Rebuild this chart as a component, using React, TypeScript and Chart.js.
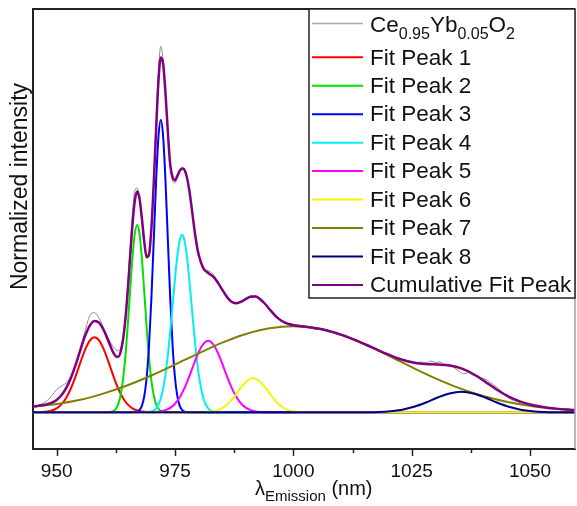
import React, { useEffect, useRef } from "react";
import { Chart, registerables } from "chart.js";

Chart.register(...registerables);

const FONT = '"Liberation Sans", Arial, Helvetica, sans-serif';

// ---------- axis ticks ----------
const xMajorTicks = [950, 975, 1000, 1025, 1050];
const xMinorTicks = [962.5, 987.5, 1012.5, 1037.5];

// ---------- measured spectrum (grey) ----------
const dataX = [
  945, 946, 947, 948, 949, 950, 951, 952, 953, 954, 955, 956, 957, 958, 959, 960, 961, 962, 963,
  963.5, 964, 964.5, 965, 965.5, 966, 966.5, 967, 967.5, 968, 968.5, 969, 969.5, 970, 970.5, 971,
  971.5, 972, 972.5, 973, 973.5, 974, 974.5, 975, 975.5, 976, 976.5, 977, 977.5, 978,
  979, 980, 981, 982, 983, 984, 985, 986, 987, 988, 989, 990, 991, 992, 993, 994, 995, 996, 997,
  998, 999, 1000, 1001, 1002, 1003, 1004, 1005, 1006, 1007, 1008, 1009, 1010, 1011, 1012, 1013,
  1014, 1015, 1016, 1017, 1018, 1019, 1020, 1021, 1022, 1023, 1024, 1025, 1026, 1027, 1028, 1029,
  1030, 1031, 1032, 1033, 1034, 1035, 1036, 1037, 1038, 1039, 1040, 1041, 1042, 1043, 1044, 1045,
  1046, 1047, 1048, 1049, 1050, 1051, 1052, 1053, 1054, 1055, 1056, 1057, 1058, 1059, 1059.5,
];
const dataY = [
  0.018, 0.02, 0.024, 0.032, 0.046, 0.062, 0.072, 0.08, 0.098, 0.13, 0.175, 0.222, 0.264, 0.272, 0.256, 0.228, 0.2, 0.178, 0.168,
  0.175, 0.205, 0.262, 0.345, 0.445, 0.54, 0.605, 0.612, 0.585, 0.522, 0.46, 0.42, 0.425, 0.495, 0.63, 0.79,
  0.93, 0.998, 0.96, 0.87, 0.762, 0.668, 0.632, 0.626, 0.642, 0.658, 0.668, 0.664, 0.644, 0.606,
  0.51, 0.432, 0.393, 0.386, 0.378, 0.358, 0.335, 0.318, 0.302, 0.3, 0.305, 0.311, 0.318, 0.318, 0.305, 0.298, 0.282, 0.27, 0.256,
  0.248, 0.242, 0.24, 0.238, 0.232, 0.234, 0.229, 0.226, 0.229, 0.222, 0.218, 0.219, 0.213, 0.21, 0.201, 0.196,
  0.193, 0.184, 0.178, 0.176, 0.168, 0.162, 0.159, 0.152, 0.149, 0.145, 0.141, 0.139, 0.136, 0.137, 0.134, 0.14,
  0.136, 0.137, 0.13, 0.131, 0.121, 0.112, 0.105, 0.108, 0.101, 0.099, 0.093, 0.087, 0.078, 0.068, 0.057, 0.044,
  0.035, 0.03, 0.026, 0.024, 0.021, 0.018, 0.016, 0.013, 0.012, 0.01, 0.01, 0.008, 0.007, 0.007, 0.006,
];

// ---------- fit peaks ----------
const peak1X = [945, 946, 947, 948, 949, 950, 951, 952, 953, 954, 955, 956, 957, 958, 959, 960, 961, 962, 963, 964, 965, 966, 967, 968, 969, 970, 971, 1059.5];
const peak1Y = [0.0001, 0.0003, 0.0008, 0.0021, 0.005, 0.0109, 0.0216, 0.0393, 0.065, 0.0983, 0.1356, 0.1706, 0.1958, 0.205, 0.1958, 0.1706, 0.1356, 0.0983, 0.065, 0.0393, 0.0216, 0.0109, 0.005, 0.0021, 0.0008, 0.0003, 0.0001, 0];

const peak2X = [945, 961, 961.5, 962, 962.5, 963, 963.5, 964, 964.5, 965, 965.5, 966, 966.5, 967, 967.5, 968, 968.5, 969, 969.5, 970, 970.5, 971, 971.5, 972, 972.5, 973, 1059.5];
const peak2Y = [0, 0.0004, 0.0014, 0.0039, 0.0098, 0.0224, 0.0467, 0.0881, 0.1508, 0.2339, 0.3293, 0.4203, 0.4866, 0.511, 0.4866, 0.4203, 0.3293, 0.2339, 0.1508, 0.0881, 0.0467, 0.0224, 0.0098, 0.0039, 0.0014, 0.0004, 0];

const peak3X = [945, 966, 966.5, 967, 967.5, 968, 968.5, 969, 969.5, 970, 970.5, 971, 971.5, 972, 972.5, 973, 973.5, 974, 974.5, 975, 975.5, 976, 976.5, 977, 977.5, 978, 1059.5];
const peak3Y = [0, 0.0002, 0.0006, 0.0021, 0.0065, 0.0177, 0.0433, 0.0937, 0.1803, 0.3079, 0.4667, 0.6283, 0.751, 0.797, 0.751, 0.6283, 0.4667, 0.3079, 0.1803, 0.0937, 0.0433, 0.0177, 0.0065, 0.0021, 0.0006, 0.0002, 0];

const peak4X = [945, 968.5, 969.5, 970, 970.5, 971, 971.5, 972, 972.5, 973, 973.5, 974, 974.5, 975, 975.5, 976, 976.5, 977, 977.5, 978, 978.5, 979, 979.5, 980, 980.5, 981, 981.5, 982, 982.5, 983, 983.5, 984.5, 1059.5];
const peak4Y = [0, 0.0002, 0.0011, 0.0025, 0.0054, 0.011, 0.0213, 0.0385, 0.0655, 0.1047, 0.1571, 0.2216, 0.2936, 0.3653, 0.4271, 0.4691, 0.484, 0.4691, 0.4271, 0.3653, 0.2936, 0.2216, 0.1571, 0.1047, 0.0655, 0.0385, 0.0213, 0.011, 0.0054, 0.0025, 0.0011, 0.0002, 0];

const peak5X = [945, 970, 971, 972, 973, 974, 975, 976, 977, 978, 979, 980, 981, 982, 983, 984, 985, 986, 987, 988, 989, 990, 991, 992, 993, 994, 1059.5];
const peak5Y = [0, 0.0004, 0.001, 0.0026, 0.0059, 0.0122, 0.0234, 0.0411, 0.0661, 0.0976, 0.1321, 0.164, 0.1868, 0.195, 0.1868, 0.164, 0.1321, 0.0976, 0.0661, 0.0411, 0.0234, 0.0122, 0.0059, 0.0026, 0.001, 0.0004, 0];

const peak6X = [945, 980, 981, 982, 983, 984, 985, 986, 987, 988, 989, 990, 991, 991.5, 992, 993, 994, 995, 996, 997, 998, 999, 1000, 1001, 1002, 1003, 1059.5];
const peak6Y = [0, 0.0002, 0.0004, 0.0011, 0.0027, 0.006, 0.0118, 0.0212, 0.0346, 0.0511, 0.0685, 0.0833, 0.0919, 0.093, 0.0919, 0.0833, 0.0685, 0.0511, 0.0346, 0.0212, 0.0118, 0.006, 0.0027, 0.0011, 0.0004, 0.0002, 0];

const peak7X = [945, 950, 955, 960, 965, 970, 975, 980, 985, 990, 995, 1000, 1005.5, 1010.5, 1015.5, 1020.5, 1025.5, 1030.5, 1035.5, 1040.5, 1045.5, 1050.5, 1055.5, 1059.5];
const peak7Y = [0.016, 0.023, 0.0343, 0.0518, 0.0738, 0.1004, 0.1302, 0.161, 0.19, 0.2138, 0.2295, 0.235, 0.2278, 0.2097, 0.1833, 0.1523, 0.12, 0.0899, 0.0639, 0.0432, 0.0277, 0.0169, 0.0098, 0.0061];

const peak8X = [945, 1010.5, 1013, 1015.5, 1018, 1020.5, 1023, 1025.5, 1028, 1030.5, 1033, 1035.5, 1038, 1040.5, 1043, 1045.5, 1048, 1050.5, 1053, 1055.5, 1058, 1059.5];
const peak8Y = [0, 0, 0.0001, 0.0003, 0.001, 0.003, 0.0073, 0.0152, 0.0269, 0.0405, 0.0516, 0.056, 0.0516, 0.0405, 0.0269, 0.0152, 0.0073, 0.003, 0.001, 0.0003, 0.0001, 0];

// ---------- cumulative fit ----------
const cumX = [
  945, 946, 947, 948, 949, 950, 951, 952, 953, 954, 955, 956, 957, 958, 959, 960,
  960.5, 961, 961.5, 962, 962.5, 963, 963.5, 964, 964.5, 965, 965.5, 966, 966.5, 967, 967.5, 968, 968.5, 969, 969.5, 970,
  970.5, 971, 971.5, 972, 972.5, 973, 973.5, 974, 974.5, 975, 975.5, 976, 976.5, 977, 977.5, 978, 978.5, 979, 979.5, 980,
  981, 982, 983, 984, 985, 986, 987, 988, 989, 990, 991, 992, 993, 994, 995, 996, 997, 998, 999, 1000,
  1003, 1005.5, 1008, 1010.5, 1013, 1015.5, 1018, 1020.5, 1023, 1025.5, 1028, 1030.5, 1033, 1035.5, 1038, 1040.5,
  1043, 1045.5, 1048, 1050.5, 1053, 1055.5, 1058, 1059.5,
];
const cumY = [
  0.0161, 0.0175, 0.0193, 0.022, 0.0264, 0.0339, 0.0464, 0.066, 0.0938, 0.1293, 0.1699, 0.2083, 0.2367, 0.2494, 0.2438, 0.2224,
  0.2078, 0.1918, 0.1761, 0.1622, 0.1529, 0.1518, 0.1645, 0.1964, 0.2517, 0.3293, 0.4211, 0.5102, 0.576, 0.6021, 0.583, 0.5294, 0.4661, 0.4237, 0.4303, 0.4996,
  0.6228, 0.7689, 0.903, 0.968, 0.95, 0.868, 0.762, 0.674, 0.641, 0.633, 0.645, 0.659, 0.665, 0.661, 0.642, 0.607, 0.5602, 0.5086, 0.4639, 0.4299,
  0.3928, 0.3801, 0.3708, 0.355, 0.334, 0.3141, 0.301, 0.2973, 0.3015, 0.3093, 0.3155, 0.3157, 0.3087, 0.2961, 0.2806, 0.2661, 0.2542, 0.2459, 0.2408, 0.2377,
  0.233, 0.2278, 0.22, 0.2097, 0.1975, 0.1836, 0.1691, 0.1553, 0.1434, 0.1352, 0.1315, 0.1304, 0.1279, 0.1199, 0.1045, 0.0837,
  0.0617, 0.0429, 0.0291, 0.0199, 0.0139, 0.0101, 0.0074, 0.0061,
];

// ---------- legend texts ----------
const legendLabels = [
  "Ce0.95Yb0.05O2",
  "Fit Peak 1",
  "Fit Peak 2",
  "Fit Peak 3",
  "Fit Peak 4",
  "Fit Peak 5",
  "Fit Peak 6",
  "Fit Peak 7",
  "Fit Peak 8",
  "Cumulative Fit Peak",
];
const sampleFormula = [
  { t: "Ce", sub: false },
  { t: "0.95", sub: true },
  { t: "Yb", sub: false },
  { t: "0.05", sub: true },
  { t: "O", sub: false },
  { t: "2", sub: true },
];
const yTitle = "Normalized intensity";
const xTitleMain = "λ";
const xTitleSub = "Emission";
const xTitleUnit = " (nm)";

const seriesColors = ["#8a8a8a", "#ff0000", "#00e000", "#0000ff", "#00f0f0", "#ff00ff", "#f5f500", "#808000", "#000080", "#800080"];
const seriesWidths = [1, 2, 2, 2, 2, 2, 2, 2, 2, 2.5];
const seriesOrder = [10, 9, 8, 7, 6, 5, 4, 3, 2, 0];

const seriesXs = [dataX, peak1X, peak2X, peak3X, peak4X, peak5X, peak6X, peak7X, peak8X, cumX];
const seriesYs = [dataY, peak1Y, peak2Y, peak3Y, peak4Y, peak5Y, peak6Y, peak7Y, peak8Y, cumY];

const decorPlugin = {
  id: "decor",
  afterDraw(chart: any) {
    const { ctx, chartArea: a, scales } = chart;
    const xs = scales.x;
    ctx.save();

    // frame: top and right
    ctx.strokeStyle = "#222";
    ctx.lineWidth = 2;
    ctx.beginPath();
    ctx.moveTo(a.left - 1, a.top);
    ctx.lineTo(a.right, a.top);
    ctx.stroke();
    ctx.strokeStyle = "#a0a0a0";
    ctx.lineWidth = 1.5;
    ctx.beginPath();
    ctx.moveTo(a.right, a.top);
    ctx.lineTo(a.right, a.bottom);
    ctx.stroke();

    // x tick marks (outward)
    ctx.strokeStyle = "#222";
    ctx.lineWidth = 1.5;
    for (const v of xMajorTicks) {
      const px = Math.round(xs.getPixelForValue(v)) + 0.5;
      ctx.beginPath();
      ctx.moveTo(px, a.bottom);
      ctx.lineTo(px, a.bottom + 7);
      ctx.stroke();
    }
    for (const v of xMinorTicks) {
      const px = Math.round(xs.getPixelForValue(v)) + 0.5;
      ctx.beginPath();
      ctx.moveTo(px, a.bottom);
      ctx.lineTo(px, a.bottom + 4);
      ctx.stroke();
    }

    // y title
    ctx.save();
    ctx.translate(20.5, 186.5);
    ctx.rotate(-Math.PI / 2);
    ctx.font = `23px ${FONT}`;
    ctx.fillStyle = "#111";
    ctx.textAlign = "center";
    ctx.textBaseline = "middle";
    ctx.fillText(yTitle, 0, 0);
    ctx.restore();

    // x title with subscript
    ctx.fillStyle = "#111";
    ctx.textAlign = "left";
    ctx.textBaseline = "alphabetic";
    let tx = 255;
    ctx.font = `20px ${FONT}`;
    ctx.fillText(xTitleMain, tx, 495);
    tx += ctx.measureText(xTitleMain).width;
    ctx.font = `15px ${FONT}`;
    ctx.fillText(xTitleSub, tx, 501);
    tx += ctx.measureText(xTitleSub).width;
    ctx.font = `20px ${FONT}`;
    ctx.fillText(xTitleUnit, tx, 495);

    // legend box
    const lx = 309, ly = a.top, lw = a.right - 309, lh = 289;
    ctx.fillStyle = "#fff";
    ctx.fillRect(lx, ly, lw, lh);
    ctx.strokeStyle = "#222";
    ctx.lineWidth = 1.5;
    ctx.strokeRect(lx, ly, lw, lh);

    for (let i = 0; i < legendLabels.length; i++) {
      const rowY = i === 0 ? 23.5 : 57.3 + (i - 1) * 28.45;
      ctx.strokeStyle = i === 0 ? "#a8a8a8" : seriesColors[i];
      ctx.lineWidth = i === 0 ? 1.5 : 2;
      ctx.beginPath();
      ctx.moveTo(312, rowY);
      ctx.lineTo(363, rowY);
      ctx.stroke();
      ctx.fillStyle = "#111";
      if (i === 0) {
        let px = 370;
        ctx.textBaseline = "alphabetic";
        for (const part of sampleFormula) {
          ctx.font = part.sub ? `16px ${FONT}` : `22.5px ${FONT}`;
          ctx.fillText(part.t, px, part.sub ? 38.5 : 32);
          px += ctx.measureText(part.t).width;
        }
      } else {
        ctx.font = `22.5px ${FONT}`;
        ctx.textBaseline = "middle";
        ctx.fillText(legendLabels[i], 370, rowY + 1);
      }
    }
    ctx.restore();
  },
};

export default function App() {
  const canvasRef = useRef<HTMLCanvasElement | null>(null);

  useEffect(() => {
    const canvas = canvasRef.current;
    if (!canvas) return;
    const datasets = seriesXs.map((xs, i) => ({
      label: legendLabels[i],
      data: xs.map((x, j) => ({ x, y: seriesYs[i][j] })),
      borderColor: seriesColors[i],
      backgroundColor: seriesColors[i],
      borderWidth: seriesWidths[i],
      pointRadius: 0,
      fill: false,
      cubicInterpolationMode: "monotone" as const,
      order: seriesOrder[i],
    }));

    const chart = new Chart(canvas, {
      type: "line",
      data: { datasets },
      options: {
        animation: false,
        responsive: false,
        maintainAspectRatio: false,
        layout: { padding: { top: 9, right: 2, left: 0, bottom: 0 } },
        plugins: { legend: { display: false }, tooltip: { enabled: false } },
        scales: {
          x: {
            type: "linear",
            min: 945,
            max: 1059.5,
            afterBuildTicks: (axis: any) => {
              axis.ticks = xMajorTicks.map((v) => ({ value: v }));
            },
            afterFit: (axis: any) => {
              axis.height = 57;
            },
            ticks: {
              font: { family: FONT, size: 19 },
              color: "#111",
              padding: 4,
              maxRotation: 0,
              autoSkip: false,
              callback: (v: any) => String(v),
            },
            grid: { display: true, drawOnChartArea: false, drawTicks: true, tickLength: 7, color: "rgba(0,0,0,0)" },
            border: { display: true, color: "#222", width: 2 },
          },
          y: {
            type: "linear",
            min: -0.1,
            max: 1.1,
            afterFit: (axis: any) => {
              axis.width = 33;
            },
            ticks: { display: false },
            grid: { display: false, drawTicks: false },
            border: { display: true, color: "#222", width: 2 },
          },
        },
      },
      plugins: [decorPlugin],
    });
    return () => chart.destroy();
  }, []);

  return (
    <div style={{ position: "absolute", left: 0, top: 0, width: 577, height: 506, background: "#fff" }}>
      <canvas ref={canvasRef} width={577} height={506} style={{ display: "block" }} />
    </div>
  );
}
